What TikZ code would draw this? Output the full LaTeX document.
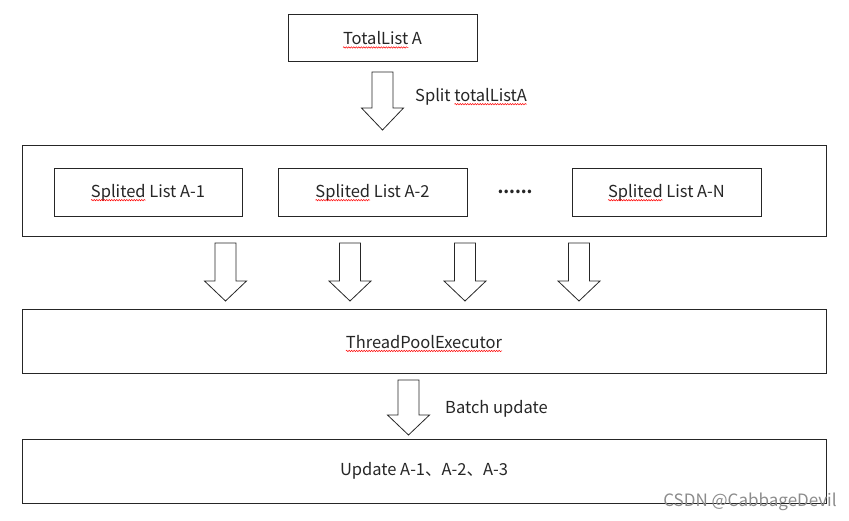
\documentclass[tikz,border=0pt]{standalone}
\usepackage{fontspec}
\setmainfont{Noto Sans CJK SC}
\usetikzlibrary{decorations.pathmorphing}
\newcommand\redwave[1]{\tikz[baseline=(w.base)]{\node[inner sep=0pt,outer sep=0pt,draw=none,minimum width=0pt,minimum height=0pt,text=black!85](w) at (0pt,0pt){#1};\draw[overlay,red,line width=0.5pt,decorate,decoration={snake,amplitude=0.7pt,segment length=2.5pt}] ([yshift=-2.5pt]w.base west) -- ([yshift=-2.5pt]w.base east);}}

\begin{document}
\begin{tikzpicture}[x=1pt,y=-1pt,font=\fontsize{16.5}{19}\selectfont,text=black!85,
  box/.style={draw=black!85,line width=1pt,inner sep=0pt},
  label/.style={anchor=west,inner sep=0pt}]
\newcommand\pil[4]{
\draw[black!85,line width=0.8pt] (#1-10.5,#2) -- (#1+10.5,#2) -- (#1+10.5,#3) -- (#1+21,#3) -- (#1,#4) -- (#1-21,#3) -- (#1-10.5,#3) -- cycle;
}
\useasboundingbox (0,0) rectangle (849,521);
\node[box,minimum width=189pt,minimum height=47pt] (total) at (382.5,38.5) {\redwave{TotalList} A};
\pil{382.5}{72}{108}{130}
\node[label] (split) at (415,97) {Split \redwave{totalListA}};
\node[box,minimum width=804pt,minimum height=91pt] (lists) at (424,191.5) {};
\node[box,minimum width=188pt,minimum height=48pt] (a1) at (148,193) {\redwave{Splited} List A-1};
\node[box,minimum width=189pt,minimum height=48pt] (a2) at (372.5,193) {\redwave{Splited} List A-2};
\node (dots) at (515,192) {\textbf{......}};
\node[box,minimum width=189pt,minimum height=48pt] (an) at (666.5,193) {\redwave{Splited} List A-N};
\pil{225.5}{243}{281}{301}
\pil{350}{243}{281}{301}
\pil{465}{243}{281}{301}
\pil{579}{243}{281}{301}
\node[box,minimum width=804pt,minimum height=64pt] (pool) at (424,342) {\redwave{ThreadPoolExecutor}};
\pil{408.5}{380}{415}{435}
\node[label] (batch) at (445,409) {Batch update};
\node[box,minimum width=804pt,minimum height=64pt] (update) at (424,471) {Update A-1、A-2、A-3};
\node[text=gray!90,font=\fontsize{17}{20}\selectfont] (mark) at (750,502) {CSDN @CabbageDevil};
\end{tikzpicture}
\end{document}
